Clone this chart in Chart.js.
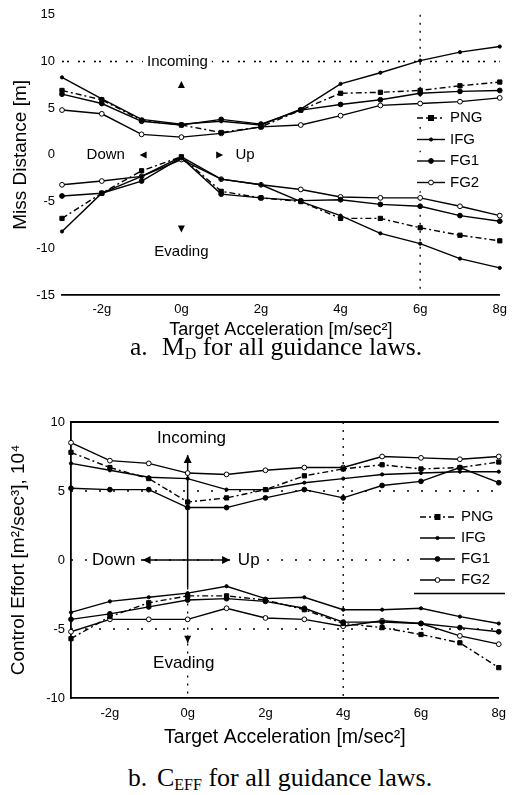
<!DOCTYPE html>
<html>
<head>
<meta charset="utf-8">
<script src="https://cdn.jsdelivr.net/npm/chart.js@4/dist/chart.umd.min.js"></script>
<style>
  body { margin: 0; background: #fff; width: 514px; height: 795px; position: relative; overflow: hidden; }
  .box { position: absolute; left: 0; width: 514px; }
  .cap { position: absolute; font-family: "Liberation Serif", "Times New Roman", serif; font-size: 25.5px; line-height: 26px; color: #000; white-space: nowrap; }
  .cap sub { font-size: 16px; vertical-align: -4px; line-height: 0; }
</style>
</head>
<body>
<div class="box" style="top:0;height:345px"><canvas id="chartMiss"></canvas></div>
<div class="cap" style="left:130px;top:334px">a.</div>
<div class="cap" style="left:162px;top:334px">M<sub>D</sub> for all guidance laws.</div>

<div class="box" style="top:400px;height:355px"><canvas id="chartEffort"></canvas></div>
<div class="cap" style="left:128px;top:765px">b.</div>
<div class="cap" style="left:157px;top:765px;font-size:26px">C<sub>EFF</sub> for all guidance laws.</div>

<script>
// target acceleration in g, one point per g
const accelG = [-3, -2, -1, 0, 1, 2, 3, 4, 5, 6, 7, 8]
const accelTicks = [-2, 0, 2, 4, 6, 8]
const laws = ['PNG', 'IFG', 'FG1', 'FG2']

// a. miss distance [m]
const missTicks = [15, 10, 5, 0, -5, -10, -15]
const missPngIn = [6.9, 5.9, 3.7, 3.2, 2.4, 3.0, 4.8, 6.6, 6.7, 6.9, 7.4, 7.8]
const missIfgIn = [8.3, 6.0, 3.8, 3.3, 3.6, 3.2, 4.9, 7.6, 8.8, 10.1, 11.0, 11.6]
const missFg1In = [6.5, 5.5, 3.6, 3.2, 3.8, 3.3, 4.8, 5.4, 5.9, 6.6, 6.8, 6.9]
const missFg2In = [4.8, 4.4, 2.2, 1.9, 2.3, 3.0, 3.2, 4.2, 5.3, 5.5, 5.7, 6.1]
const missPngOut = [-6.8, -4.1, -1.7, -0.2, -3.9, -4.6, -5.0, -6.8, -6.8, -7.8, -8.6, -9.2]
const missIfgOut = [-8.2, -4.1, -2.3, -0.2, -2.6, -3.2, -5.0, -6.5, -8.4, -9.5, -11.1, -12.1]
const missFg1Out = [-4.4, -4.1, -2.8, -0.3, -4.2, -4.6, -4.9, -4.8, -5.3, -5.5, -6.5, -7.1]
const missFg2Out = [-3.2, -2.8, -2.3, -0.5, -2.6, -3.2, -3.7, -4.5, -4.6, -4.6, -5.5, -6.5]

// b. control effort
const effortTicks = [10, 5, 0, -5, -10]
const effPngIn = [7.8, 6.7, 5.9, 4.2, 4.5, 5.1, 6.1, 6.6, 6.9, 6.6, 6.7, 7.1]
const effIfgIn = [7.0, 6.5, 6.0, 5.9, 5.1, 5.1, 5.6, 5.9, 6.2, 6.3, 6.4, 6.4]
const effFg1In = [5.2, 5.1, 5.1, 3.8, 3.8, 4.5, 5.1, 4.5, 5.4, 5.7, 6.7, 5.6]
const effFg2In = [8.5, 7.2, 7.0, 6.3, 6.2, 6.5, 6.7, 6.7, 7.5, 7.4, 7.3, 7.5]
const effPngOut = [-5.7, -4.1, -3.1, -2.6, -2.6, -2.9, -3.6, -4.6, -4.9, -5.4, -6.0, -7.8]
const effIfgOut = [-3.8, -3.0, -2.7, -2.4, -1.9, -2.8, -2.7, -3.6, -3.6, -3.5, -4.1, -4.6]
const effFg1Out = [-4.3, -3.9, -3.4, -2.9, -2.8, -3.0, -3.5, -4.5, -4.5, -4.6, -4.9, -5.2]
const effFg2Out = [-5.2, -4.3, -4.3, -4.3, -3.5, -4.2, -4.3, -4.8, -4.4, -4.6, -5.5, -6.1]

const SANS = '"Liberation Sans", Arial, sans-serif'
Chart.defaults.font.family = SANS
Chart.defaults.color = '#000'

const lawStyle = {
  PNG: { dash: [6, 3, 2, 3], point: 'rect', r: 3, fill: '#000' },
  IFG: { dash: [], point: 'circle', r: 1.6, fill: '#000' },
  FG1: { dash: [], point: 'circle', r: 2.4, fill: '#000' },
  FG2: { dash: [], point: 'circle', r: 2.4, fill: '#fff' }
}

function makeDs(law, vals) {
  const st = lawStyle[law]
  return {
    label: law,
    data: vals.map((v, i) => ({ x: accelG[i], y: v })),
    borderColor: '#000',
    borderWidth: 1.4,
    borderDash: st.dash,
    pointStyle: st.point,
    pointRadius: st.r,
    pointBackgroundColor: st.fill,
    pointBorderColor: '#000',
    pointBorderWidth: 1,
    tension: 0,
    fill: false,
    clip: false
  }
}

function line(ctx, x1, y1, x2, y2) {
  ctx.beginPath()
  ctx.moveTo(x1, y1)
  ctx.lineTo(x2, y2)
  ctx.stroke()
}

// small filled arrow head with its tip at (px, py)
function head(ctx, px, py, dir, size) {
  const s = size || 6
  const d = { up: [0, -1], down: [0, 1], left: [-1, 0], right: [1, 0] }[dir]
  const bx = px - d[0] * s, by = py - d[1] * s
  ctx.beginPath()
  ctx.moveTo(px, py)
  ctx.lineTo(bx + d[1] * s * 0.5, by + d[0] * s * 0.5)
  ctx.lineTo(bx - d[1] * s * 0.5, by - d[0] * s * 0.5)
  ctx.closePath()
  ctx.fill()
}

const decorPlugin = {
  id: 'decor',
  beforeDatasetsDraw(chart, args, o) {
    const { ctx, chartArea: a, scales: { x, y } } = chart
    ctx.save()
    ctx.strokeStyle = '#000'
    ctx.fillStyle = '#000'
    ctx.lineWidth = 1.3
    ctx.setLineDash(o.dots || [2, 8])
    ;(o.dottedY || []).forEach(v => {
      const py = y.getPixelForValue(v)
      line(ctx, a.left, py, a.right, py)
    })
    ctx.setLineDash([2, 6])
    ;(o.dottedX || []).forEach(v => {
      const px = x.getPixelForValue(v)
      line(ctx, px, a.top, px, a.bottom)
    })
    ;(o.dottedSeg || []).forEach(s => {
      line(ctx, x.getPixelForValue(s[0]), y.getPixelForValue(s[1]), x.getPixelForValue(s[2]), y.getPixelForValue(s[3]))
    })
    ctx.setLineDash([])
    ctx.lineWidth = 1.8
    ;(o.solidY || []).forEach(v => {
      const py = y.getPixelForValue(v)
      line(ctx, a.left, py, a.right, py)
    })
    ctx.lineWidth = 1.5
    ;(o.arrows || []).forEach(ar => {
      const x1 = x.getPixelForValue(ar.from[0]), y1 = y.getPixelForValue(ar.from[1])
      const x2 = x.getPixelForValue(ar.to[0]), y2 = y.getPixelForValue(ar.to[1])
      line(ctx, x1, y1, x2, y2)
      if (ar.endHead) head(ctx, x2, y2, ar.endHead, 8)
      if (ar.startHead) head(ctx, x1, y1, ar.startHead, 8)
    })
    ;(o.heads || []).forEach(h => {
      const px = x.getPixelForValue(h.x), py = y.getPixelForValue(h.y)
      if (h.stem) line(ctx, px, py - (h.dir === 'down' ? 7 : -7), px, py)
      head(ctx, px, py, h.dir, 7)
    })
    ctx.font = o.textSize + 'px ' + SANS
    ctx.textAlign = 'center'
    ctx.textBaseline = 'middle'
    ;(o.texts || []).forEach(t => {
      const px = x.getPixelForValue(t.x), py = y.getPixelForValue(t.y)
      const w = ctx.measureText(t.t).width
      ctx.fillStyle = '#fff'
      ctx.fillRect(px - w / 2 - 4, py - o.textSize / 2 - 1, w + 8, o.textSize + 2)
      ctx.fillStyle = '#000'
      ctx.fillText(t.t, px, py)
    })
    ctx.restore()
  },
  afterDatasetsDraw(chart, args, o) {
    const lg = o.legend
    if (!lg) return
    const ctx = chart.ctx
    ctx.save()
    ctx.strokeStyle = '#000'
    ctx.lineWidth = 1.4
    ctx.font = lg.size + 'px ' + SANS
    ctx.textBaseline = 'middle'
    ctx.textAlign = 'left'
    for (let i = 0; i < laws.length; i++) {
      const ds = chart.data.datasets[i]
      const ry = lg.y + i * lg.rowH
      ctx.fillStyle = '#fff'
      ctx.fillRect(lg.x - 3, ry - lg.rowH / 2 + 2, lg.width, lg.rowH - 4)
      ctx.setLineDash(ds.borderDash)
      line(ctx, lg.x, ry, lg.x + lg.len, ry)
      ctx.setLineDash([])
      const cx = lg.x + lg.len / 2, r = ds.pointRadius
      ctx.fillStyle = ds.pointBackgroundColor
      if (ds.pointStyle === 'rect') {
        ctx.fillStyle = '#000'
        ctx.fillRect(cx - r, ry - r, 2 * r, 2 * r)
      } else {
        ctx.beginPath()
        ctx.arc(cx, ry, r, 0, Math.PI * 2)
        ctx.fill()
        ctx.lineWidth = 1
        ctx.stroke()
        ctx.lineWidth = 1.4
      }
      ctx.fillStyle = '#000'
      ctx.fillText(ds.label, lg.x + lg.len + lg.gap, ry)
    }
    if (lg.underline) {
      const uy = lg.y + laws.length * lg.rowH - lg.rowH / 2 + 3
      line(ctx, lg.underline[0], uy, lg.underline[1], uy)
    }
    ctx.restore()
  }
}

function buildChart(id, cfg) {
  return new Chart(document.getElementById(id), {
    type: 'line',
    data: { datasets: cfg.datasets },
    options: {
      responsive: true,
      maintainAspectRatio: false,
      animation: false,
      events: [],
      layout: { padding: { top: cfg.padTop, right: cfg.padRight, left: 0, bottom: 0 } },
      plugins: {
        legend: { display: false },
        tooltip: { enabled: false },
        decor: cfg.decor
      },
      scales: {
        x: {
          type: 'linear',
          min: -3,
          max: 8,
          afterBuildTicks: s => { s.ticks = accelTicks.map(v => ({ value: v })) },
          afterFit: s => { s.height = cfg.xHeight },
          grid: { display: false, drawTicks: false },
          border: { display: true, color: '#000', width: 1.8 },
          ticks: { callback: v => v + 'g', font: { size: 13 }, color: '#000', padding: cfg.xTickPad, maxRotation: 0, autoSkip: false },
          title: { display: true, text: 'Target Acceleration [m/sec²]', font: { size: cfg.xTitleSize }, color: '#000', padding: { top: 0, bottom: cfg.xTitlePad } }
        },
        y: {
          type: 'linear',
          min: cfg.yTicks[cfg.yTicks.length - 1],
          max: cfg.yTicks[0],
          afterBuildTicks: s => { s.ticks = cfg.yTicks.map(v => ({ value: v })) },
          afterFit: s => { s.width = cfg.yWidth },
          grid: { display: false, drawTicks: false },
          border: { display: cfg.yBorder, color: '#000', width: 1.8 },
          ticks: { font: { size: 13 }, color: '#000', padding: cfg.yTickPad, autoSkip: false },
          title: { display: true, text: cfg.yTitle, font: { size: cfg.yTitleSize }, color: '#000', padding: { top: cfg.yTitlePad, bottom: 0 } }
        }
      }
    },
    plugins: [decorPlugin]
  })
}

buildChart('chartMiss', {
  datasets: [missPngIn, missIfgIn, missFg1In, missFg2In].map((v, i) => makeDs(laws[i], v))
    .concat([missPngOut, missIfgOut, missFg1Out, missFg2Out].map((v, i) => makeDs(laws[i], v))),
  yTicks: missTicks,
  yTitle: 'Miss Distance [m]',
  padTop: 11, padRight: 12, xHeight: 50, yWidth: 62,
  xTickPad: 7, xTitlePad: 4, yTickPad: 7, yTitlePad: 9,
  xTitleSize: 18, yTitleSize: 19,
  yBorder: false,
  decor: {
    dots: [2, 3, 2, 9],
    dottedY: [10],
    dottedX: [6],
    textSize: 15,
    texts: [
      { t: 'Incoming', x: -0.1, y: 10 },
      { t: 'Down', x: -1.9, y: 0 },
      { t: 'Up', x: 1.6, y: 0 },
      { t: 'Evading', x: 0, y: -10.4 }
    ],
    heads: [
      { x: 0, y: 7.9, dir: 'up' },
      { x: -1.05, y: 0, dir: 'left' },
      { x: 1.05, y: 0, dir: 'right' },
      { x: 0, y: -8.3, dir: 'down' }
    ],
    legend: { x: 417, y: 118, rowH: 21.5, len: 28, gap: 5, size: 15, width: 90 }
  }
})

buildChart('chartEffort', {
  datasets: [effPngIn, effIfgIn, effFg1In, effFg2In].map((v, i) => makeDs(laws[i], v))
    .concat([effPngOut, effIfgOut, effFg1Out, effFg2Out].map((v, i) => makeDs(laws[i], v))),
  yTicks: effortTicks,
  yTitle: 'Control Effort [m²/sec³], 10⁴',
  padTop: 22, padRight: 9, xHeight: 57, yWidth: 71,
  xTickPad: 8, xTitlePad: 6, yTickPad: 6, yTitlePad: 7,
  xTitleSize: 19.5, yTitleSize: 19,
  yBorder: true,
  decor: {
    dots: [2, 12],
    dottedY: [5, 0, -5],
    dottedX: [4],
    dottedSeg: [[0, -2, 0, -10]],
    solidY: [10],
    textSize: 17,
    arrows: [
      { from: [0, -2.0], to: [0, 7.6], endHead: 'up' },
      { from: [-1.16, 0], to: [1.09, 0], startHead: 'left', endHead: 'right' }
    ],
    heads: [{ x: 0, y: -6.0, dir: 'down', stem: true }],
    texts: [
      { t: 'Incoming', x: 0.1, y: 8.8 },
      { t: 'Down', x: -1.9, y: 0 },
      { t: 'Up', x: 1.57, y: 0 },
      { t: 'Evading', x: -0.1, y: -7.5 }
    ],
    legend: { x: 420, y: 117, rowH: 21, len: 35, gap: 6, size: 15, width: 90, underline: [414, 505] }
  }
})
</script>
</body>
</html>
